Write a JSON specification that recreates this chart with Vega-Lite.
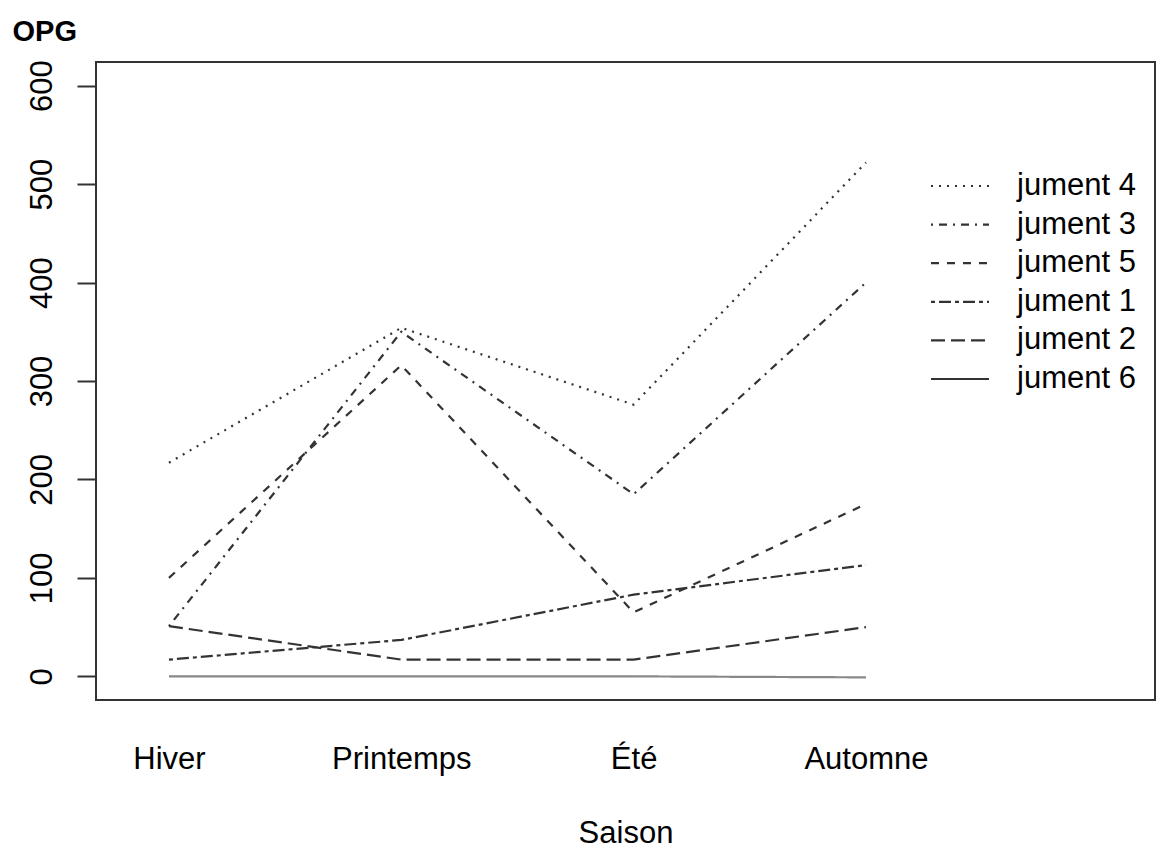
{
  "$schema": "https://vega.github.io/schema/vega-lite/v6.json",
  "width": 1059,
  "height": 638,
  "autosize": "none",
  "padding": {"left": 96, "top": 62, "right": 1, "bottom": 153},
  "background": "white",
  "config": {
    "font": "Liberation Sans",
    "view": {"stroke": "#333", "strokeWidth": 2}
  },
  "data": {
    "values": [
      {"jument": "jument 4", "saison": "Hiver", "rang": 1, "opg": 217},
      {"jument": "jument 4", "saison": "Printemps", "rang": 2, "opg": 354},
      {"jument": "jument 4", "saison": "Été", "rang": 3, "opg": 276},
      {"jument": "jument 4", "saison": "Automne", "rang": 4, "opg": 522},
      {"jument": "jument 3", "saison": "Hiver", "rang": 1, "opg": 51},
      {"jument": "jument 3", "saison": "Printemps", "rang": 2, "opg": 350},
      {"jument": "jument 3", "saison": "Été", "rang": 3, "opg": 185},
      {"jument": "jument 3", "saison": "Automne", "rang": 4, "opg": 400},
      {"jument": "jument 5", "saison": "Hiver", "rang": 1, "opg": 100},
      {"jument": "jument 5", "saison": "Printemps", "rang": 2, "opg": 316},
      {"jument": "jument 5", "saison": "Été", "rang": 3, "opg": 65},
      {"jument": "jument 5", "saison": "Automne", "rang": 4, "opg": 175},
      {"jument": "jument 1", "saison": "Hiver", "rang": 1, "opg": 17},
      {"jument": "jument 1", "saison": "Printemps", "rang": 2, "opg": 37},
      {"jument": "jument 1", "saison": "Été", "rang": 3, "opg": 83},
      {"jument": "jument 1", "saison": "Automne", "rang": 4, "opg": 113},
      {"jument": "jument 2", "saison": "Hiver", "rang": 1, "opg": 51},
      {"jument": "jument 2", "saison": "Printemps", "rang": 2, "opg": 17},
      {"jument": "jument 2", "saison": "Été", "rang": 3, "opg": 17},
      {"jument": "jument 2", "saison": "Automne", "rang": 4, "opg": 50},
      {"jument": "jument 6", "saison": "Hiver", "rang": 1, "opg": 0},
      {"jument": "jument 6", "saison": "Printemps", "rang": 2, "opg": 0},
      {"jument": "jument 6", "saison": "Été", "rang": 3, "opg": 0},
      {"jument": "jument 6", "saison": "Automne", "rang": 4, "opg": -1}
    ]
  },
  "mark": {"type": "line", "strokeWidth": 2.2, "strokeCap": "butt", "clip": true},
  "encoding": {
    "x": {
      "field": "rang",
      "type": "quantitative",
      "scale": {"domain": [0.686, 5.244], "nice": false, "zero": false},
      "axis": {
        "values": [1, 2, 3, 4],
        "labelExpr": "['','Hiver','Printemps','Été','Automne'][datum.value]",
        "ticks": false,
        "tickSize": 0,
        "domain": false,
        "grid": false,
        "labelFontSize": 31,
        "labelColor": "black",
        "labelPadding": 44,
        "title": "Saison",
        "titleFontSize": 31,
        "titleFontWeight": "normal",
        "titleColor": "black",
        "titlePadding": 44
      }
    },
    "y": {
      "field": "opg",
      "type": "quantitative",
      "scale": {"domain": [-24, 624], "nice": false, "zero": false},
      "axis": {
        "values": [0, 100, 200, 300, 400, 500, 600],
        "grid": false,
        "domain": false,
        "tickSize": 19,
        "tickWidth": 2,
        "tickColor": "#333",
        "labelAngle": -90,
        "labelAlign": "center",
        "labelBaseline": "alphabetic",
        "labelPadding": 26,
        "labelFontSize": 31,
        "labelColor": "black",
        "title": "OPG",
        "titleAngle": 0,
        "titleAlign": "left",
        "titleBaseline": "alphabetic",
        "titleX": -84,
        "titleY": -22,
        "titleFontSize": 29,
        "titleFontWeight": "bold",
        "titleColor": "black"
      }
    },
    "strokeDash": {
      "field": "jument",
      "type": "nominal",
      "scale": {
        "domain": ["jument 4", "jument 3", "jument 5", "jument 1", "jument 2", "jument 6"],
        "range": [[2, 6], [2, 6, 8, 6], [8, 8], [4, 4, 12, 4], [14, 6], [1, 0]]
      },
      "legend": {
        "title": null,
        "orient": "none",
        "legendX": 848,
        "legendY": 108,
        "symbolType": "M-2,0H2",
        "symbolSize": 841,
        "symbolStrokeWidth": 2.2,
        "symbolStrokeColor": "#333",
        "labelFontSize": 31,
        "labelColor": "black",
        "labelOffset": 41,
        "rowPadding": 7.6,
        "labelLimit": 300
      }
    },
    "stroke": {
      "condition": {"test": "datum.jument === 'jument 6'", "value": "#888"},
      "value": "#333"
    }
  }
}
